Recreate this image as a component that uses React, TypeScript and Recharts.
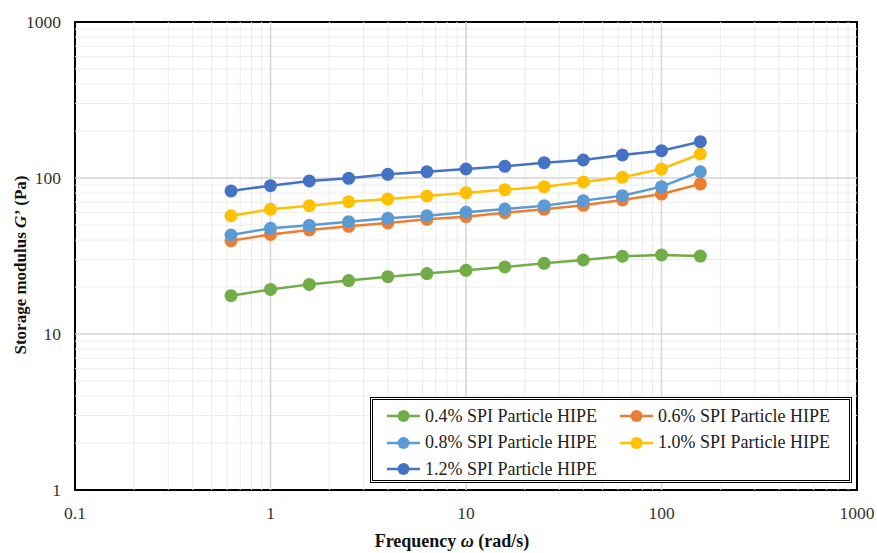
import React from 'react';
import {
  LineChart, Line, XAxis, YAxis, ReferenceLine, ReferenceArea,
} from 'recharts';

// angular frequency (rad/s)
const freq = [0.628, 1, 1.58, 2.51, 3.98, 6.31, 10, 15.8, 25.1, 39.8, 63.1, 100, 158];

// storage modulus G' (Pa)
const spi04 = [17.6, 19.3, 20.8, 22.0, 23.3, 24.4, 25.6, 26.9, 28.4, 29.8, 31.5, 32.1, 31.6];
const spi06 = [39.6, 43.5, 46.4, 49.0, 51.5, 54.3, 56.5, 59.9, 63.0, 66.8, 72.3, 78.9, 91.6];
const spi08 = [43.1, 47.6, 49.7, 52.5, 55.2, 57.3, 60.3, 63.3, 66.5, 71.6, 77.0, 88.0, 109.7];
const spi10 = [57.3, 63.0, 66.5, 70.5, 73.3, 76.7, 80.5, 84.2, 88.0, 94.3, 101, 114.2, 142.5];
const spi12 = [82.6, 89.3, 95.7, 99.5, 105.6, 109.7, 114.2, 118.8, 125.4, 130.4, 140.4, 149.6, 170.9];

const xTicks = [0.1, 1, 10, 100, 1000];
const yTicks = [1, 10, 100, 1000];

const series = [
  { key: 'spi04', name: '0.4% SPI Particle HIPE', color: '#70AD47', values: spi04 },
  { key: 'spi06', name: '0.6% SPI Particle HIPE', color: '#ED7D31', values: spi06 },
  { key: 'spi08', name: '0.8% SPI Particle HIPE', color: '#5B9BD5', values: spi08 },
  { key: 'spi10', name: '1.0% SPI Particle HIPE', color: '#FFC000', values: spi10 },
  { key: 'spi12', name: '1.2% SPI Particle HIPE', color: '#4472C4', values: spi12 },
];

const data = freq.map((f, i) => {
  const row: Record<string, number> = { freq: f };
  series.forEach(s => { row[s.key] = s.values[i]; });
  return row;
});

// minor gridlines 2..9 per decade
const minorX: number[] = [];
[0.1, 1, 10, 100].forEach(d => { for (let k = 2; k <= 9; k++) minorX.push(+(d * k).toPrecision(3)); });
const minorY: number[] = [];
[1, 10, 100].forEach(d => { for (let k = 2; k <= 9; k++) minorY.push(d * k); });

const FONT = '"Liberation Serif", "Times New Roman", serif';

const LegendBox = () => (
  <div style={{
    position: 'absolute', left: 370, top: 397, border: '3px double #000',
    boxSizing: 'border-box', width: 482, height: 86, background: '#fff',
    padding: '3px 0 0 14px', display: 'grid', gridTemplateColumns: '233px 233px',
    gridAutoRows: '26.5px', fontFamily: FONT, fontSize: 18, color: '#222',
  }}>
    {series.map(s => (
      <div key={s.key} style={{ display: 'flex', alignItems: 'center' }}>
        <svg width={33} height={14} style={{ marginRight: 5 }}>
          <line x1={0} y1={7} x2={33} y2={7} stroke={s.color} strokeWidth={2.5} />
          <circle cx={16.5} cy={7} r={6} fill={s.color} />
        </svg>
        <span>{s.name}</span>
      </div>
    ))}
  </div>
);

const YTitle = (props: any) => {
  const vb = props.viewBox;
  const cx = 20;
  const cy = vb.y + vb.height / 2 + 9;
  return (
    <text x={cx} y={cy} transform={`rotate(-90, ${cx}, ${cy})`} textAnchor="middle"
      dominantBaseline="central" fontFamily={FONT} fontWeight="bold" fontSize={17} fill="#111">
      Storage modulus <tspan fontStyle="italic">G’</tspan> (Pa)
    </text>
  );
};

const XTitle = () => (
  <text x={452} y={547} textAnchor="middle" fontFamily={FONT} fontWeight="bold" fontSize={18} fill="#111">
    Frequency <tspan fontStyle="italic">ω</tspan> (rad/s)
  </text>
);

export default function App() {
  return (
    <div style={{ position: 'absolute', left: 0, top: 0, width: 877, height: 553, background: '#fff' }}>
      <LineChart width={877} height={553} data={data} margin={{ top: 22, right: 20, left: 0, bottom: 0 }}>
        <XAxis
          dataKey="freq" type="number" scale="log" domain={[0.1, 1000]} ticks={xTicks}
          allowDataOverflow height={63} tickLine={false} axisLine={false} tickSize={6} tickMargin={11}
          tick={{ fontFamily: FONT, fontSize: 17.5, fill: '#333' }}
          label={<XTitle />}
        />
        <YAxis
          type="number" scale="log" domain={[1, 1000]} ticks={yTicks} allowDataOverflow
          width={75} tickLine={false} axisLine={false} tickSize={6} tickMargin={8}
          tick={{ fontFamily: FONT, fontSize: 17.5, fill: '#333' }}
          label={<YTitle />}
        />
        {minorX.map(v => (
          <ReferenceLine key={`mx${v}`} x={v} stroke="#ececec" strokeWidth={1} />
        ))}
        {minorY.map(v => (
          <ReferenceLine key={`my${v}`} y={v} stroke="#ececec" strokeWidth={1} />
        ))}
        {[1, 10, 100].map(v => (
          <ReferenceLine key={`Mx${v}`} x={v} stroke="#d4d4d4" strokeWidth={1.5} />
        ))}
        {[10, 100].map(v => (
          <ReferenceLine key={`My${v}`} y={v} stroke="#d4d4d4" strokeWidth={1.5} />
        ))}
        <ReferenceArea x1={0.1} x2={1000} y1={1} y2={1000} fill="none" stroke="#000" strokeWidth={2} ifOverflow="visible" />
        {series.map(s => (
          <Line
            key={s.key} dataKey={s.key} name={s.name} stroke={s.color} strokeWidth={2.5}
            dot={{ r: 6.5, fill: s.color, stroke: s.color, strokeWidth: 0 }}
            activeDot={false} isAnimationActive={false}
          />
        ))}
      </LineChart>
      <LegendBox />
    </div>
  );
}
